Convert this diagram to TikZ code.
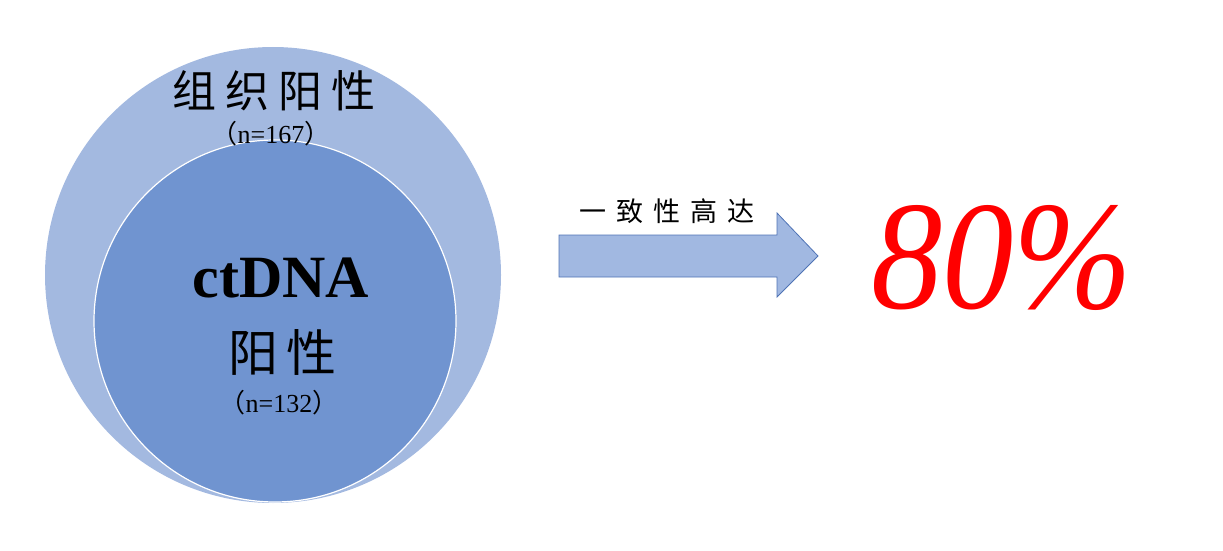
\documentclass[tikz,border=0pt]{standalone}
\usepackage{fontspec}
\setmainfont{Liberation Serif}
\newfontfamily\cjk{Noto Sans CJK SC}
\definecolor{outerblue}{HTML}{A3B9E0}
\definecolor{innerblue}{HTML}{7094D0}
\definecolor{arrowfill}{HTML}{A1B8E1}
\definecolor{arrowline}{HTML}{4F73B5}
\definecolor{bigred}{HTML}{FF0000}
\tikzset{
  disc/.style={circle,inner sep=0pt,outer sep=0pt},
  lbl/.style={anchor=base,inner sep=0pt,outer sep=0pt,text=black},
}
\begin{document}
\begin{tikzpicture}[x=1pt,y=-1pt]
\useasboundingbox (0,0) rectangle (1223,551);
% circles
\node[disc,fill=outerblue,minimum size=456pt] (outer) at (273,275) {};
\node[disc,fill=innerblue,draw=white,line width=1.2pt,minimum size=362pt] (inner) at (275,321) {};
% labels in circles
\node[lbl,font=\cjk\fontsize{44pt}{48pt}\selectfont] (tissue) at (274,107) {组\hspace{9pt}织\hspace{9pt}阳\hspace{9pt}性};
\node[lbl,font=\fontsize{26pt}{30pt}\selectfont] (n167) at (271,143) {{\cjk （}n=167{\cjk ）}};
\node[lbl,font=\bfseries\fontsize{60pt}{64pt}\selectfont] (ct) at (281,297) {ctDNA};
\node[lbl,font=\cjk\fontsize{50pt}{54pt}\selectfont] (ctpos) at (282,371) {阳\hspace{8pt}性};
\node[lbl,font=\fontsize{26pt}{30pt}\selectfont] (n132) at (279,412) {{\cjk （}n=132{\cjk ）}};
% arrow
\coordinate (a1) at (559,235);
\coordinate (a2) at (777,235);
\coordinate (a3) at (777,213);
\coordinate (a4) at (818,256);
\coordinate (a5) at (777,297);
\coordinate (a6) at (777,277);
\coordinate (a7) at (559,277);
\draw[fill=arrowfill,draw=arrowline,line width=0.8pt,line join=miter] (a1) -- (a2) -- (a3) -- (a4) -- (a5) -- (a6) -- (a7) -- cycle;
\node[lbl,font=\cjk\fontsize{27pt}{30pt}\selectfont] (agree) at (667,221) {一\hspace{10pt}致\hspace{10pt}性\hspace{10pt}高\hspace{10pt}达};
% big percentage
\node[lbl,text=bigred,font=\itshape\fontsize{155pt}{160pt}\selectfont,xscale=0.92] (pct) at (1002,308) {80\%};
\end{tikzpicture}
\end{document}
